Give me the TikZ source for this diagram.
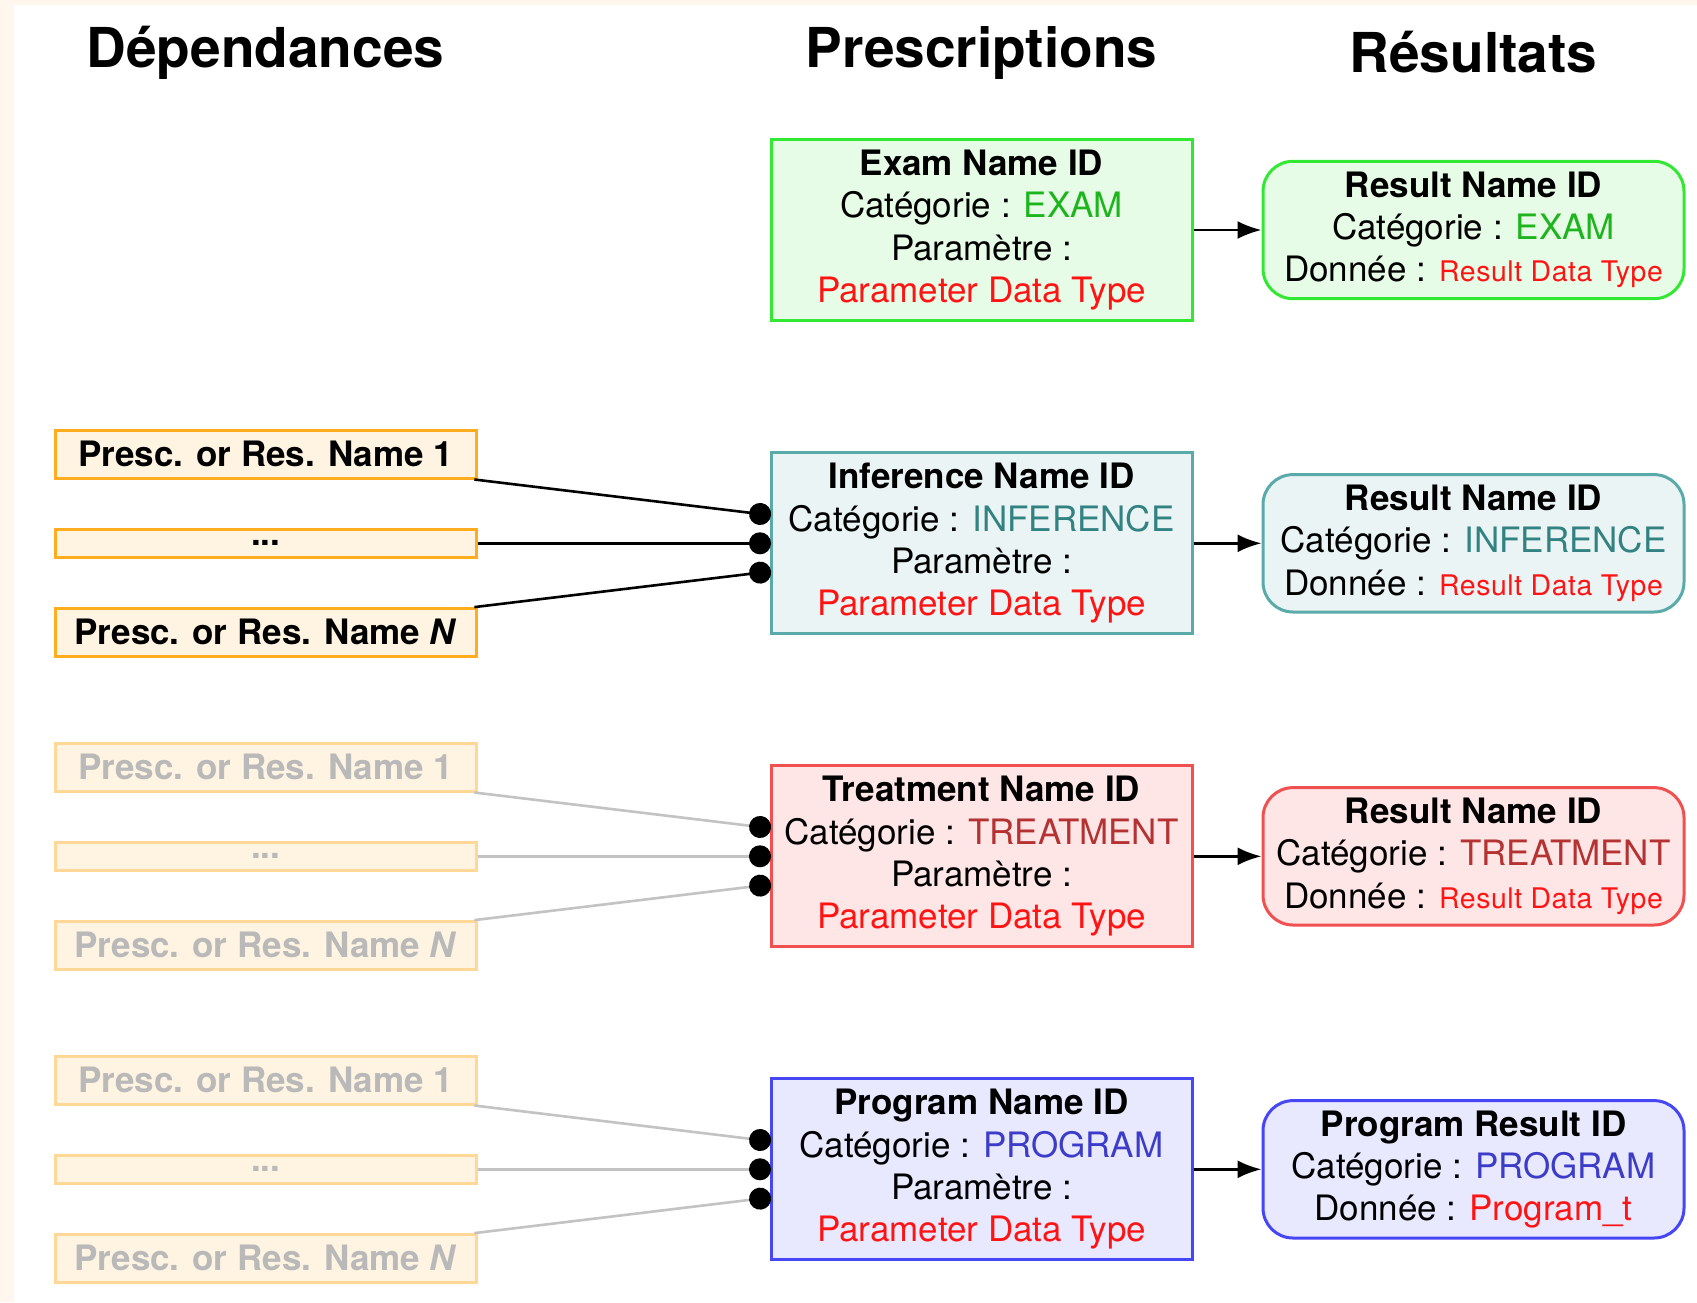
\documentclass[tikz,border=0pt]{standalone}
\usepackage{fontspec}
\setmainfont{TeX Gyre Heros}
\usetikzlibrary{arrows.meta,calc}
\definecolor{cream}{RGB}{255,247,238}
\definecolor{exB}{RGB}{50,232,50}
\definecolor{exF}{RGB}{230,252,230}
\definecolor{exT}{RGB}{30,180,30}
\definecolor{inB}{RGB}{90,170,170}
\definecolor{inF}{RGB}{234,244,244}
\definecolor{inT}{RGB}{50,130,130}
\definecolor{trB}{RGB}{240,80,80}
\definecolor{trF}{RGB}{255,230,230}
\definecolor{trT}{RGB}{180,50,50}
\definecolor{prB}{RGB}{70,70,245}
\definecolor{prF}{RGB}{232,232,255}
\definecolor{prT}{RGB}{60,60,200}
\definecolor{ptype}{RGB}{255,20,20}
\definecolor{depB}{RGB}{255,172,30}
\definecolor{depF}{RGB}{255,243,225}
\definecolor{fadeB}{RGB}{255,215,150}
\definecolor{fadeT}{RGB}{185,185,185}
\definecolor{fadeL}{RGB}{195,195,195}
\newcommand{\ptxt}{\textcolor{ptype}{Parameter Data Type}}
\newcommand{\rtxt}{{\fontsize{14.2}{17}\selectfont\addfontfeatures{LetterSpace=2}\textcolor{ptype}{Result Data Type}}}
\tikzset{
  presbox/.style={draw, line width=1.5pt, minimum width=210.5pt, minimum height=90.5pt,
    inner sep=0pt, align=center, font=\fontsize{17.5}{21.1}\selectfont},
  resbox/.style={draw, rounded corners=15pt, line width=1.5pt, minimum width=210.5pt,
    minimum height=68.7pt, inner sep=0pt, align=center, font=\fontsize{17.5}{21.1}\selectfont},
  depbox/.style={draw=depB, fill=depF, line width=1.4pt, minimum width=210.5pt,
    minimum height=23.8pt, inner sep=0pt, font=\fontsize{17.5}{21}\selectfont\bfseries},
  dotsbox/.style={depbox, minimum height=14.1pt},
  fadebox/.style={depbox, draw=fadeB, text=fadeT},
  fadedots/.style={dotsbox, draw=fadeB, text=fadeT},
  link/.style={line width=1.3pt, -{Circle[length=11pt,color=black,fill=black]}},
  fadelink/.style={link, draw=fadeL},
  flow/.style={line width=1.3pt, -{Latex[length=12pt,width=9pt]}},
  coltitle/.style={anchor=base, font=\fontsize{27.5}{33}\selectfont\bfseries}
}
\begin{document}
\begin{tikzpicture}[x=0.5pt,y=-0.5pt]
\useasboundingbox (0,0) rectangle (1697,1302);
\fill[cream] (0,0) rectangle (1697,1302);
\fill[white] (14,5) rectangle (1697,1302);

% titles
\node[coltitle] (tdep) at (265.5,67) {Dépendances};
\node[coltitle] (tpre) at (981.5,67) {Prescriptions};
\node[coltitle] (tres) at (1473.5,72) {Résultats};

% row 1 : exam
\node[presbox, draw=exB, fill=exF] (exam) at (981.5,230)
  {\textbf{Exam Name ID}\\Catégorie : \textcolor{exT}{EXAM}\\Paramètre :\\\ptxt};
\node[resbox, draw=exB, fill=exF] (rexam) at (1473.5,230)
  {\textbf{Result Name ID}\\Catégorie : \textcolor{exT}{EXAM}\\Donnée : \rtxt};
\draw[flow] (exam) -- (rexam);

% row 2 : inference
\node[presbox, draw=inB, fill=inF] (inf) at (981.5,543.3)
  {\textbf{Inference Name ID}\\Catégorie : \textcolor{inT}{INFERENCE}\\Paramètre :\\\ptxt};
\node[resbox, draw=inB, fill=inF] (rinf) at (1473.5,543.3)
  {\textbf{Result Name ID}\\Catégorie : \textcolor{inT}{INFERENCE}\\Donnée : \rtxt};
\draw[flow] (inf) -- (rinf);
\node[depbox] (ia) at (265.7,454.3) {Presc. or Res. Name 1};
\node[dotsbox] (ib) at (265.7,543.3) {...};
\node[depbox] (ic) at (265.7,632.3) {Presc. or Res. Name \textit{N}};
\coordinate (inf1) at (771,515.3);
\coordinate (inf2) at (771,543.3);
\coordinate (inf3) at (771,571.3);
\draw[link] (ia) -- (inf1);
\draw[link] (ib) -- (inf2);
\draw[link] (ic) -- (inf3);

% row 3 : treatment
\node[presbox, draw=trB, fill=trF] (tre) at (981.5,856.3)
  {\textbf{Treatment Name ID}\\Catégorie : \textcolor{trT}{TREATMENT}\\Paramètre :\\\ptxt};
\node[resbox, draw=trB, fill=trF] (rtre) at (1473.5,856.3)
  {\textbf{Result Name ID}\\Catégorie : \textcolor{trT}{TREATMENT}\\Donnée : \rtxt};
\draw[flow] (tre) -- (rtre);
\node[fadebox] (ta) at (265.7,767.3) {Presc. or Res. Name 1};
\node[fadedots] (tb) at (265.7,856.3) {...};
\node[fadebox] (tc) at (265.7,945.3) {Presc. or Res. Name \textit{N}};
\coordinate (tre1) at (771,828.3);
\coordinate (tre2) at (771,856.3);
\coordinate (tre3) at (771,884.3);
\draw[fadelink] (ta) -- (tre1);
\draw[fadelink] (tb) -- (tre2);
\draw[fadelink] (tc) -- (tre3);

% row 4 : program
\node[presbox, draw=prB, fill=prF] (pro) at (981.5,1169.3)
  {\textbf{Program Name ID}\\Catégorie : \textcolor{prT}{PROGRAM}\\Paramètre :\\\ptxt};
\node[resbox, draw=prB, fill=prF] (rpro) at (1473.5,1169.3)
  {\textbf{Program Result ID}\\Catégorie : \textcolor{prT}{PROGRAM}\\Donnée : \textcolor{ptype}{Program\_t}};
\draw[flow] (pro) -- (rpro);
\node[fadebox] (pa) at (265.7,1080.3) {Presc. or Res. Name 1};
\node[fadedots] (pb) at (265.7,1169.3) {...};
\node[fadebox] (pc) at (265.7,1258.3) {Presc. or Res. Name \textit{N}};
\coordinate (pro1) at (771,1141.3);
\coordinate (pro2) at (771,1169.3);
\coordinate (pro3) at (771,1197.3);
\draw[fadelink] (pa) -- (pro1);
\draw[fadelink] (pb) -- (pro2);
\draw[fadelink] (pc) -- (pro3);
\end{tikzpicture}
\end{document}
